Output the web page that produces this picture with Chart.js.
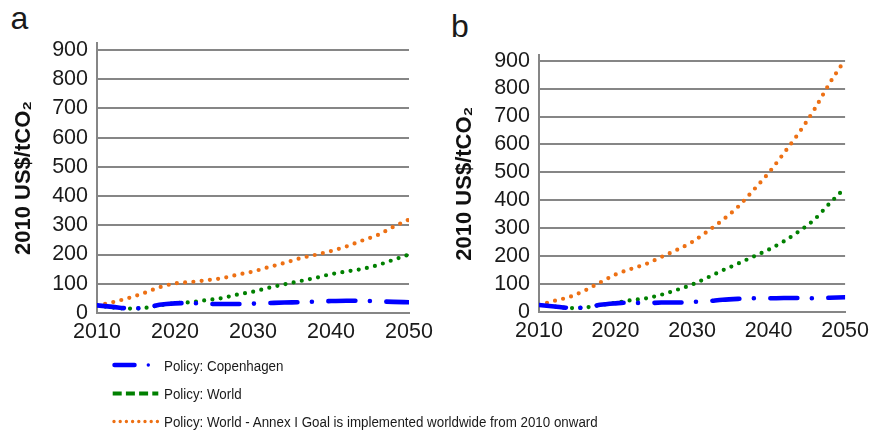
<!DOCTYPE html>
<html>
<head>
<meta charset="utf-8">
<script src="https://cdn.jsdelivr.net/npm/chart.js@4/dist/chart.umd.min.js"></script>
<style>
  html, body { margin: 0; padding: 0; background: #fff; }
  body { width: 875px; height: 436px; position: relative; overflow: hidden;
         font-family: "Liberation Sans", Arial, sans-serif; color: #1a1a1a; }
  canvas { position: absolute; top: 0; }
  .panel-label { position: absolute; font-size: 32px; line-height: 32px; }
  .legend-text { position: absolute; left: 164px; font-size: 15.5px; line-height: 20px; white-space: nowrap;
                 transform: scaleX(0.861); transform-origin: 0 50%; }
  svg { position: absolute; left: 0; top: 0; }
</style>
</head>
<body>
<div class="panel-label" style="left:10.5px; top:2px;">a</div>
<div class="panel-label" style="left:451px; top:10px;">b</div>
<canvas id="chartA" width="440" height="345" style="left:0px;"></canvas>
<canvas id="chartB" width="435" height="345" style="left:440px;"></canvas>

<svg width="875" height="436">
  <!-- Copenhagen: long dash + dot -->
  <line x1="114.5" y1="365" x2="134.5" y2="365" stroke="#0000ff" stroke-width="4.5" stroke-linecap="round"/>
  <circle cx="148.3" cy="365" r="1.7" fill="#0000ff"/>
  <!-- World: dashed -->
  <line x1="112.7" y1="393.5" x2="158.3" y2="393.5" stroke="#008000" stroke-width="4" stroke-dasharray="9 4.2"/>
  <!-- Annex I goal: dotted -->
  <line x1="114" y1="421.5" x2="157.5" y2="421.5" stroke="#ed7014" stroke-width="3.4" stroke-linecap="round" stroke-dasharray="0 6.2"/>
</svg>
<div class="legend-text" style="top:355.5px;">Policy: Copenhagen</div>
<div class="legend-text" style="top:383.8px;">Policy: World</div>
<div class="legend-text" style="top:412.2px;">Policy: World - Annex I Goal is implemented worldwide from 2010 onward</div>

<script>
// Sample years shared by every series
const years = [2010, 2012, 2014, 2016, 2018, 2020, 2022, 2024, 2026, 2028, 2030,
               2032, 2034, 2036, 2038, 2040, 2042, 2044, 2046, 2048, 2050];

// Panel a: carbon price, 2010 US$/tCO2
const copenhagenA = [26, 21, 16, 17, 28, 33, 34, 31, 31, 31, 32, 34, 36, 37, 39, 41, 42, 42, 40, 38, 37];
const worldA      = [26, 19, 15, 17, 26, 34, 37, 44, 51, 63, 73, 86, 98, 109, 120, 133, 142, 151, 164, 182, 200];
const annexGoalA  = [26, 37, 51, 68, 88, 101, 106, 112, 119, 131, 142, 157, 171, 187, 199, 212, 228, 248, 267, 295, 320];

// Panel b: carbon price, 2010 US$/tCO2
const copenhagenB = [26, 21, 16, 17, 27, 32, 35, 32, 35, 35, 37, 40, 45, 48, 50, 50, 51, 51, 50, 52, 54];
const worldB      = [26, 21, 15, 17, 26, 34, 43, 50, 63, 80, 99, 124, 150, 174, 199, 224, 254, 290, 332, 390, 445];
const annexGoalB  = [26, 41, 55, 78, 107, 135, 155, 173, 198, 223, 251, 289, 330, 377, 436, 498, 569, 643, 726, 820, 903];

// Axis ticks
const xTicks = [2010, 2020, 2030, 2040, 2050];
const yTicks = [0, 100, 200, 300, 400, 500, 600, 700, 800, 900];

const FONT = '"Liberation Sans", Arial, sans-serif';
const GRID = '#868686';
const BLUE = '#0000ff';
const GREEN = '#008000';
const ORANGE = '#ed7014';

function points(values) {
  return years.map((y, i) => ({ x: y, y: values[i] }));
}

function makeChart(id, series, opts) {
  const ctx = document.getElementById(id);
  return new Chart(ctx, {
    type: 'line',
    data: {
      datasets: [
        {
          label: 'Policy: Copenhagen',
          data: points(series[0]),
          borderColor: BLUE,
          borderWidth: 4.6,
          borderCapStyle: 'round',
          borderDash: [27, 14.5, 0, 16.5],
          cubicInterpolationMode: 'monotone',
          pointRadius: 0,
          order: 1
        },
        {
          label: 'Policy: World',
          data: points(series[1]),
          borderColor: GREEN,
          borderWidth: 4.2,
          borderCapStyle: 'round',
          borderDash: [0, 8.3],
          cubicInterpolationMode: 'monotone',
          pointRadius: 0,
          order: 2
        },
        {
          label: 'Policy: World - Annex I Goal is implemented worldwide from 2010 onward',
          data: points(series[2]),
          borderColor: ORANGE,
          borderWidth: 4.2,
          borderCapStyle: 'round',
          borderDash: [0, 8.3],
          cubicInterpolationMode: 'monotone',
          pointRadius: 0,
          order: 3
        }
      ]
    },
    options: {
      responsive: false,
      animation: false,
      devicePixelRatio: 1,
      events: [],
      layout: { padding: { left: 0, right: opts.padRight, top: opts.padTop, bottom: 0 } },
      plugins: { legend: { display: false }, tooltip: { enabled: false } },
      scales: {
        x: {
          type: 'linear',
          min: 2010,
          max: 2050,
          afterBuildTicks: (scale) => { scale.ticks = xTicks.map(v => ({ value: v })); },
          afterFit: (scale) => { scale.height = opts.xHeight; },
          ticks: {
            font: { family: FONT, size: 21.5 },
            color: '#1a1a1a',
            padding: 6,
            maxRotation: 0,
            autoSkip: false,
            callback: (v) => String(v)
          },
          grid: { display: false, drawTicks: false },
          border: { display: true, color: GRID, width: 2 }
        },
        y: {
          min: 0,
          max: opts.yMax,
          afterBuildTicks: (scale) => { scale.ticks = yTicks.map(v => ({ value: v })); },
          afterFit: (scale) => { scale.width = opts.yWidth; },
          ticks: {
            font: { family: FONT, size: 21.5 },
            color: '#1a1a1a',
            padding: 9,
            autoSkip: false,
            callback: (v) => String(v)
          },
          grid: { color: GRID, lineWidth: 2, drawTicks: false },
          border: { display: true, color: GRID, width: 2 },
          title: {
            display: true,
            text: '2010 US$/tCO\u2082',
            font: { family: FONT, size: 22, weight: 'bold' },
            color: '#111',
            padding: { top: opts.titlePad, bottom: 0 }
          }
        }
      }
    }
  });
}

makeChart('chartA', [copenhagenA, worldA, annexGoalA],
  { yMax: 924, yWidth: 97, padRight: 31, padTop: 43, xHeight: 32, titlePad: 10.5 });
makeChart('chartB', [copenhagenB, worldB, annexGoalB],
  { yMax: 920, yWidth: 99, padRight: 26, padTop: 55, xHeight: 32.7, titlePad: 11.5 });
</script>
</body>
</html>
